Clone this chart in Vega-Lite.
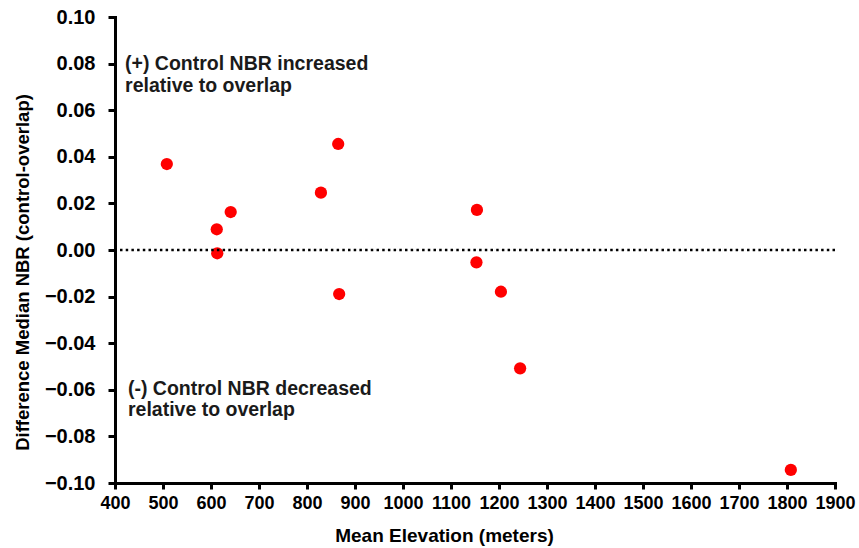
{
  "$schema": "https://vega.github.io/schema/vega-lite/v6.json",
  "autosize": "none",
  "width": 720,
  "height": 466,
  "padding": {"left": 115, "top": 17, "right": 24, "bottom": 65},
  "background": "white",
  "config": {
    "view": {"stroke": null},
    "font": "Liberation Sans"
  },
  "datasets": {
    "points": [
      {"elevation": 508, "diff": 0.0369},
      {"elevation": 612, "diff": 0.0089},
      {"elevation": 641, "diff": 0.0163},
      {"elevation": 613, "diff": -0.0014},
      {"elevation": 829, "diff": 0.0246},
      {"elevation": 865, "diff": 0.0455},
      {"elevation": 867, "diff": -0.0189},
      {"elevation": 1154, "diff": 0.0172},
      {"elevation": 1153, "diff": -0.0053},
      {"elevation": 1204, "diff": -0.0179},
      {"elevation": 1244, "diff": -0.0508},
      {"elevation": 1808, "diff": -0.0944}
    ],
    "notes": [
      {"elevation": 421, "diff": 0.0773, "label": "(+) Control NBR increased"},
      {"elevation": 421, "diff": 0.0678, "label": "relative to overlap"},
      {"elevation": 427, "diff": -0.0622, "label": "(-) Control NBR decreased"},
      {"elevation": 427, "diff": -0.0712, "label": "relative to overlap"}
    ],
    "zero": [
      {"diff": 0}
    ]
  },
  "layer": [
    {
      "data": {"name": "points"},
      "mark": {"type": "circle", "size": 150, "color": "#ff0000", "opacity": 1},
      "encoding": {
        "x": {
          "field": "elevation",
          "type": "quantitative",
          "scale": {"domain": [400, 1900], "nice": false, "zero": false},
          "axis": {
            "title": "Mean Elevation (meters)",
            "values": [400, 500, 600, 700, 800, 900, 1000, 1100, 1200, 1300, 1400, 1500, 1600, 1700, 1800, 1900],
            "format": "d",
            "grid": false,
            "domain": true,
            "domainColor": "black",
            "domainWidth": 3,
            "domainCap": "square",
            "ticks": true,
            "tickColor": "black",
            "tickWidth": 3,
            "tickSize": 6,
            "labelPadding": 5,
            "labelFont": "Liberation Sans",
            "labelFontWeight": "bold",
            "labelColor": "black",
            "labelFlush": false,
            "labelOverlap": false,
            "labelFontSize": 18,
            "titleFont": "Liberation Sans",
            "titleFontWeight": "bold",
            "titleColor": "black",
            "titleFontSize": 19,
            "titleX": 329,
            "titleY": 58,
            "titleBaseline": "alphabetic"
          }
        },
        "y": {
          "field": "diff",
          "type": "quantitative",
          "scale": {"domain": [-0.1, 0.1], "nice": false, "zero": false},
          "axis": {
            "title": "Difference Median NBR (control-overlap)",
            "values": [-0.1, -0.08, -0.06, -0.04, -0.02, 0, 0.02, 0.04, 0.06, 0.08, 0.1],
            "format": ".2f",
            "grid": false,
            "domain": true,
            "domainColor": "black",
            "domainWidth": 3,
            "domainCap": "square",
            "ticks": true,
            "tickColor": "black",
            "tickWidth": 3,
            "tickSize": 7,
            "labelPadding": 13,
            "labelFont": "Liberation Sans",
            "labelFontWeight": "bold",
            "labelColor": "black",
            "labelFlush": false,
            "labelOverlap": false,
            "labelFontSize": 20,
            "titleFont": "Liberation Sans",
            "titleFontWeight": "bold",
            "titleColor": "black",
            "titleFontSize": 18.5,
            "titleX": -87,
            "titleY": 255,
            "titleAngle": -90,
            "titleBaseline": "alphabetic",
            "titleAlign": "center"
          }
        }
      }
    },
    {
      "data": {"name": "zero"},
      "mark": {"type": "rule", "color": "black", "strokeWidth": 2.5, "strokeDash": [2.5, 3.2], "strokeCap": "butt"},
      "encoding": {
        "y": {"field": "diff", "type": "quantitative"}
      }
    },
    {
      "data": {"name": "notes"},
      "mark": {"type": "text", "align": "left", "baseline": "alphabetic", "font": "Liberation Sans", "fontWeight": "bold", "fontSize": 19.5, "color": "#1a1a1a"},
      "encoding": {
        "x": {"field": "elevation", "type": "quantitative"},
        "y": {"field": "diff", "type": "quantitative"},
        "text": {"field": "label", "type": "nominal"}
      }
    }
  ]
}
